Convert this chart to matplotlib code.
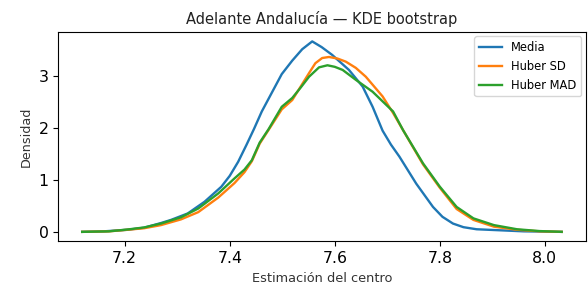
import matplotlib
matplotlib.use("Agg")
import matplotlib.pyplot as plt

title = "Adelante Andalucía — KDE bootstrap"
xlabel = "Estimación del centro"
ylabel = "Densidad"
xticks = [7.2, 7.4, 7.6, 7.8, 8.0]
yticks = [0, 1, 2, 3]

media_x = [7.119, 7.160, 7.205, 7.237, 7.269, 7.288, 7.320, 7.352, 7.384, 7.400, 7.416, 7.432,
           7.446, 7.461, 7.480, 7.499, 7.519, 7.538, 7.557, 7.575, 7.595, 7.627, 7.653, 7.672,
           7.691, 7.707, 7.723, 7.755, 7.787, 7.805, 7.825, 7.845, 7.870, 7.915, 7.960, 8.032]
media_y = [0.00, 0.01, 0.04, 0.08, 0.17, 0.23, 0.355, 0.58, 0.87, 1.08, 1.35, 1.68,
           1.98, 2.32, 2.68, 3.04, 3.30, 3.52, 3.67, 3.56, 3.41, 3.12, 2.80, 2.41,
           1.95, 1.68, 1.45, 0.93, 0.48, 0.29, 0.16, 0.09, 0.05, 0.03, 0.01, 0.00]

sd_x = [7.119, 7.170, 7.205, 7.237, 7.269, 7.307, 7.340, 7.378, 7.409, 7.428, 7.442, 7.457,
        7.480, 7.499, 7.519, 7.535, 7.551, 7.563, 7.576, 7.589, 7.605, 7.621, 7.640, 7.659,
        7.691, 7.711, 7.730, 7.768, 7.800, 7.832, 7.864, 7.903, 7.947, 7.990, 8.032]
sd_y = [0.00, 0.01, 0.04, 0.07, 0.13, 0.24, 0.38, 0.66, 0.94, 1.15, 1.36, 1.70,
        2.06, 2.36, 2.54, 2.80, 3.06, 3.25, 3.35, 3.37, 3.34, 3.28, 3.16, 2.99,
        2.61, 2.29, 1.96, 1.30, 0.85, 0.44, 0.23, 0.10, 0.04, 0.01, 0.00]

mad_x = [7.119, 7.170, 7.205, 7.237, 7.269, 7.307, 7.340, 7.378, 7.409, 7.428, 7.442, 7.457,
         7.474, 7.499, 7.519, 7.535, 7.551, 7.570, 7.586, 7.600, 7.615, 7.640, 7.672, 7.711,
         7.730, 7.768, 7.800, 7.832, 7.864, 7.903, 7.947, 7.990, 8.032]
mad_y = [0.00, 0.01, 0.045, 0.085, 0.16, 0.28, 0.45, 0.74, 1.03, 1.20, 1.38, 1.72,
         1.98, 2.41, 2.58, 2.78, 2.99, 3.17, 3.21, 3.18, 3.12, 2.93, 2.70, 2.32,
         1.96, 1.32, 0.87, 0.48, 0.26, 0.13, 0.05, 0.015, 0.00]

fig = plt.figure(figsize=(5.88, 2.98), dpi=100)
ax = fig.add_axes([0.099, 0.19, 0.897, 0.703])
ax.plot(media_x, media_y, color="#1f77b4", lw=1.7, label="Media")
ax.plot(sd_x, sd_y, color="#ff7f0e", lw=1.7, label="Huber SD")
ax.plot(mad_x, mad_y, color="#2ca02c", lw=1.7, label="Huber MAD")
ax.set_title(title, fontsize=10.5, color="#222222")
ax.set_xlabel(xlabel, fontsize=9.3, color="#333333")
ax.set_ylabel(ylabel, fontsize=9.2, color="#333333")
ax.set_xticks(xticks)
ax.set_yticks(yticks)
ax.tick_params(labelsize=11.3)
ax.legend(loc="upper right", fontsize=8.3, borderaxespad=0.4)
fig.savefig("out.png", dpi=100)
